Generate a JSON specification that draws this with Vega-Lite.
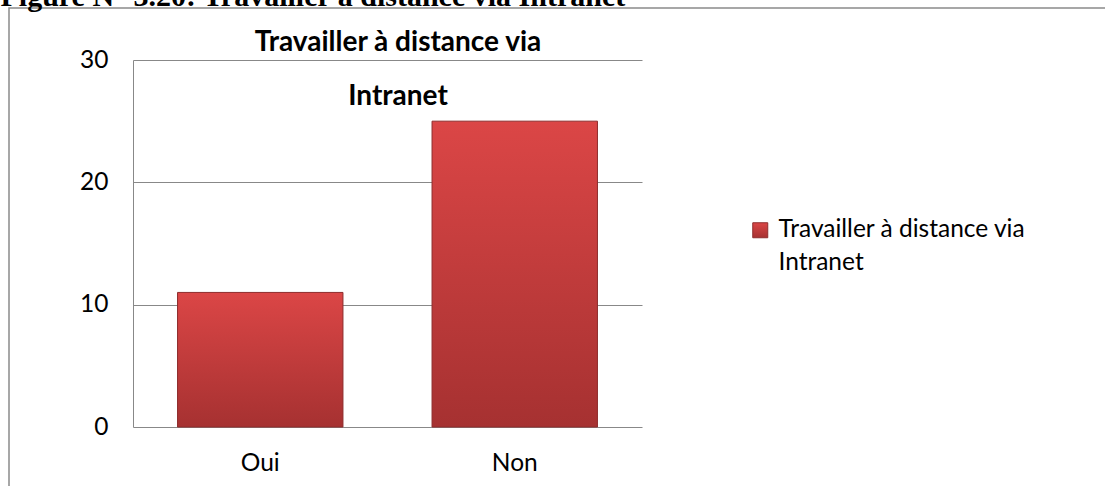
{
  "$schema": "https://vega.github.io/schema/vega-lite/v6.json",
  "autosize": {"type": "none"},
  "padding": {"left": 9, "top": 8, "right": -6, "bottom": -6},
  "width": 1102,
  "height": 484,
  "background": "white",
  "config": {
    "view": {"stroke": "#8a8a8a", "strokeWidth": 1.5},
    "style": {"guide-label": {"lineHeight": 33}}
  },
  "title": {
    "text": ["Travailler à distance via", "Intranet"],
    "font": "Lato",
    "fontSize": 28,
    "fontWeight": "bold",
    "color": "black",
    "lineHeight": 54,
    "anchor": "middle",
    "dx": -162,
    "dy": 156,
    "baseline": "alphabetic"
  },
  "data": {
    "values": [
      {"Réponse": "Oui", "Nombre": 11},
      {"Réponse": "Non", "Nombre": 25}
    ]
  },
  "mark": {
    "type": "bar",
    "fill": {
      "gradient": "linear",
      "x1": 0, "y1": 0, "x2": 0, "y2": 1,
      "stops": [
        {"offset": 0, "color": "#DB4646"},
        {"offset": 1, "color": "#A63131"}
      ]
    },
    "strokeWidth": 1
  },
  "encoding": {
    "x": {
      "field": "Réponse",
      "type": "nominal",
      "sort": ["Oui", "Non"],
      "scale": {"range": [124, 633], "paddingInner": 0.35, "paddingOuter": 0.175},
      "axis": {
        "title": null,
        "orient": "bottom",
        "offset": -65,
        "labelAngle": 0,
        "labelFont": "Lato",
        "labelFontSize": 24.5,
        "labelColor": "black",
        "labelPadding": 43,
        "labelBaseline": "alphabetic",
        "ticks": false,
        "tickSize": 0,
        "domain": false,
        "grid": false
      }
    },
    "y": {
      "field": "Nombre",
      "type": "quantitative",
      "scale": {"domain": [0, 30], "range": [419, 52], "nice": false, "zero": true},
      "axis": {
        "title": "Figure N° 3.20: Travailler à distance via Intranet",
        "titleAngle": 0,
        "titleAlign": "left",
        "titleBaseline": "alphabetic",
        "titleX": -133,
        "titleY": -3,
        "titleFont": "Liberation Serif",
        "titleFontSize": 30,
        "titleFontWeight": "bold",
        "titleColor": "black",
        "orient": "left",
        "offset": -124,
        "values": [0, 10, 20, 30],
        "format": "d",
        "labelFont": "Lato",
        "labelFontSize": 24.5,
        "labelColor": "black",
        "labelPadding": 25,
        "ticks": false,
        "tickSize": 0,
        "domain": true,
        "domainColor": "#888888",
        "domainWidth": 1,
        "grid": true,
        "gridColor": "#888888",
        "gridWidth": 1
      }
    },
    "stroke": {
      "datum": "Travailler à distance via Intranet",
      "scale": {"range": ["#8E2C2C"]},
      "legend": {
        "title": null,
        "orient": "none",
        "legendX": 739,
        "legendY": 210,
        "padding": 0,
        "symbolType": "square",
        "symbolSize": 225,
        "symbolFillColor": "#C63D3D",
        "symbolStrokeColor": "#8E2C2C",
        "symbolStrokeWidth": 1,
        "labelFont": "Lato",
        "labelFontSize": 24.5,
        "labelColor": "black",
        "labelLimit": 0,
        "labelOffset": 6,
        "labelExpr": "['Travailler à distance via', 'Intranet']"
      }
    }
  }
}
